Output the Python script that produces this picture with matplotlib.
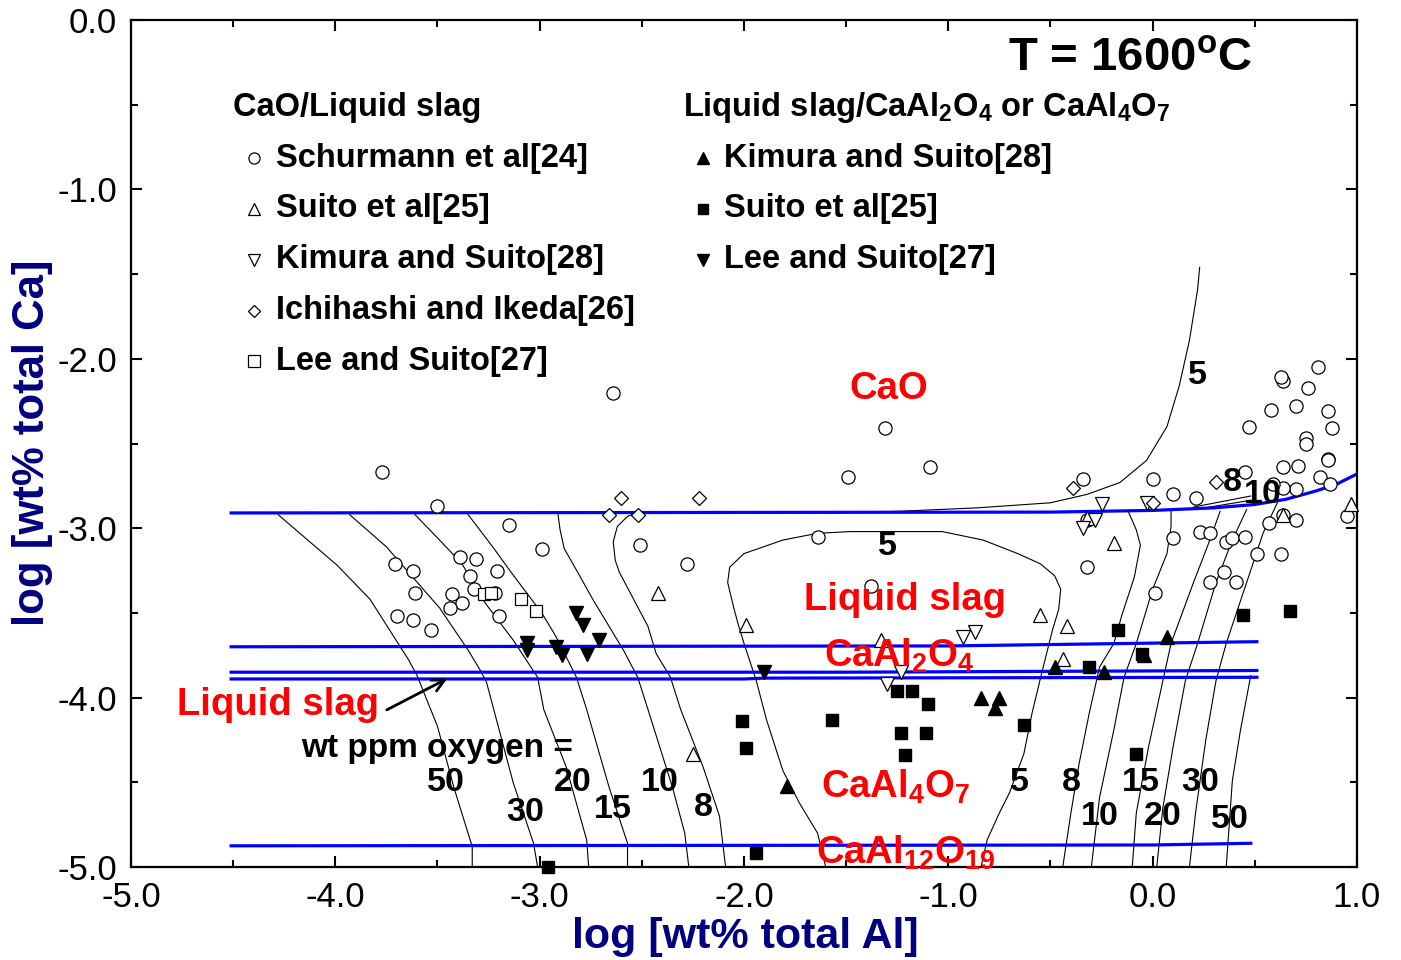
import numpy as np
import matplotlib.pyplot as plt

plt.rcParams['font.family'] = ['Liberation Sans', 'DejaVu Sans']
plt.rcParams['axes.unicode_minus'] = False
plt.rcParams['mathtext.fontset'] = 'custom'
plt.rcParams['mathtext.rm'] = 'Liberation Sans:bold'
plt.rcParams['mathtext.bf'] = 'Liberation Sans:bold'
plt.rcParams['mathtext.default'] = 'bf'

# ---- data points: log wt% Al (x), log wt% Ca (y) ----
# CaO / liquid slag
schurmann_x = [-3.77, -3.50, -3.71, -3.62, -3.61, -3.70, -3.62, -3.53, -3.39, -3.31, -3.21, -3.34, -3.32, -3.22,
               -3.38, -3.43, -3.44, -3.20, -3.15, -2.99, -2.64, -2.51, -2.28, -1.64, -1.38, -1.31, -1.09, -1.49,
               -0.34, 0.00, 0.10, 0.21, 0.45, 0.10, 0.23, 0.28, 0.36, 0.39, 0.45, 0.57, 0.51, 0.63, 0.35, 0.28,
               0.41, 0.01, -0.32, -0.32, 0.64, 0.70, 0.70, 0.64, 0.59, 0.64, 0.71, 0.82, 0.87, 0.95, 0.86, 0.86,
               0.47, 0.58, 0.70, 0.76, 0.81, 0.64, 0.63, 0.86, 0.88, 0.75, 0.75]
schurmann_y = [-2.67, -2.87, -3.21, -3.25, -3.38, -3.52, -3.54, -3.60, -3.17, -3.18, -3.25, -3.28, -3.36, -3.38,
               -3.44, -3.39, -3.47, -3.52, -2.98, -3.12, -2.20, -3.10, -3.21, -3.05, -3.34, -2.41, -2.64, -2.70,
               -2.71, -2.71, -2.80, -2.82, -2.67, -3.06, -3.02, -3.03, -3.08, -3.06, -3.05, -2.97, -3.15, -3.15,
               -3.26, -3.32, -3.32, -3.38, -3.23, -2.95, -2.92, -2.95, -2.77, -2.76, -2.74, -2.64, -2.63, -2.70,
               -2.74, -2.93, -2.59, -2.60, -2.40, -2.30, -2.28, -2.17, -2.05, -2.13, -2.11, -2.31, -2.41, -2.47,
               -2.50]
suito_open_x = [-2.42, -1.99, -2.25, -1.33, -0.55, -0.42, -0.44, -0.19, 0.64, 0.97, -0.32]
suito_open_y = [-3.38, -3.57, -4.33, -3.66, -3.51, -3.58, -3.77, -3.09, -2.92, -2.86, -2.94]
kimura_open_x = [-0.93, -0.87, -1.23, -1.30, -0.25, -0.03, -0.28, -0.34]
kimura_open_y = [-3.64, -3.61, -3.85, -3.92, -2.86, -2.85, -2.95, -3.00]
ichihashi_x = [-2.60, -2.22, -2.66, -2.52, -0.39, 0.31, 0.00]
ichihashi_y = [-2.82, -2.82, -2.92, -2.92, -2.76, -2.73, -2.85]
lee_open_x = [-3.27, -3.24, -3.09, -3.02]
lee_open_y = [-3.39, -3.38, -3.42, -3.49]
# liquid slag / CaAl2O4 or CaAl4O7
kimura_fill_x = [-1.79, -0.84, -0.75, -0.77, -0.48, -0.24, 0.07, -0.04]
kimura_fill_y = [-4.52, -4.00, -4.00, -4.06, -3.82, -3.85, -3.64, -3.75]
suito_fill_x = [-1.25, -1.18, -1.10, -1.57, -2.01, -1.99, -1.23, -1.11, -1.21, -0.63, -1.94, -2.96,
                -0.17, -0.31, -0.05, 0.44, 0.67, -0.08]
suito_fill_y = [-3.96, -3.96, -4.04, -4.13, -4.14, -4.30, -4.21, -4.21, -4.34, -4.16, -4.92, -5.00,
                -3.60, -3.82, -3.74, -3.51, -3.49, -4.33]
lee_fill_x = [-2.82, -2.79, -2.71, -3.06, -3.06, -2.92, -2.89, -2.77, -1.90]
lee_fill_y = [-3.50, -3.57, -3.66, -3.68, -3.72, -3.70, -3.75, -3.74, -3.85]

# ---- phase boundaries (blue) ----
b1_x = [-4.51, -0.5, 0.0, 0.3, 0.5, 0.65, 0.8, 0.9, 1.0]
b1_y = [-2.91, -2.905, -2.895, -2.88, -2.86, -2.83, -2.78, -2.74, -2.68]
b2_x = [-4.51, -1.0, 0.51]
b2_y = [-3.70, -3.695, -3.67]
b3_x = [-4.51, -1.5, 0.51]
b3_y = [-3.85, -3.85, -3.84]
b4_x = [-4.51, -2.0, -1.9, 0.51]
b4_y = [-3.89, -3.89, -3.885, -3.88]
b5_x = [-4.51, 0.0, 0.48]
b5_y = [-4.875, -4.87, -4.86]

# ---- iso-oxygen lines (wt ppm) ----
o50_x = [-4.28, -3.99, -3.83, -3.64, -3.60, -3.50, -3.42, -3.33, -3.33]
o50_y = [-2.92, -3.22, -3.42, -3.78, -3.87, -4.17, -4.53, -4.88, -5.00]
o30_x = [-3.93, -3.75, -3.57, -3.49, -3.35, -3.29, -3.26, -3.13, -3.03, -3.01]
o30_y = [-2.92, -3.11, -3.36, -3.47, -3.72, -3.84, -3.91, -4.50, -4.86, -5.00]
o20_x = [-3.61, -3.49, -3.38, -3.28, -3.13, -3.01, -2.98, -2.87, -2.77, -2.76]
o20_y = [-2.92, -3.07, -3.21, -3.42, -3.66, -3.88, -4.07, -4.41, -4.84, -5.00]
o15_x = [-3.35, -3.23, -3.14, -2.99, -2.92, -2.82, -2.77, -2.66, -2.57, -2.57]
o15_y = [-2.92, -3.11, -3.26, -3.50, -3.64, -3.88, -4.07, -4.53, -4.86, -5.00]
o10_x = [-2.91, -2.90, -2.88, -2.80, -2.74, -2.66, -2.59, -2.52, -2.47, -2.35, -2.29, -2.27]
o10_y = [-2.92, -3.01, -3.12, -3.29, -3.42, -3.58, -3.72, -3.88, -4.07, -4.53, -4.80, -5.00]
o8_x = [-2.51, -2.57, -2.62, -2.64, -2.63, -2.61, -2.54, -2.47, -2.43, -2.36, -2.31, -2.20, -2.12, -2.09]
o8_y = [-2.90, -2.93, -2.99, -3.08, -3.19, -3.26, -3.42, -3.58, -3.74, -3.88, -4.07, -4.41, -4.70, -5.00]
pocket_x = [-1.60, -1.64, -1.73, -1.81, -1.89, -1.94, -2.00, -2.03, -2.05, -2.08, -2.07, -2.00, -1.81, -1.64,
            -1.48, -1.03, -0.83, -0.66, -0.55, -0.48, -0.45, -0.46, -0.49, -0.54, -0.59, -0.63, -0.70, -0.75,
            -0.81, -0.84]
pocket_y = [-5.00, -4.80, -4.62, -4.43, -4.13, -3.90, -3.68, -3.56, -3.47, -3.32, -3.23, -3.15, -3.07, -3.03,
            -3.02, -3.02, -3.07, -3.15, -3.21, -3.28, -3.36, -3.48, -3.60, -3.84, -4.09, -4.33, -4.56, -4.68,
            -4.84, -5.00]
cao5_x = [-1.58, -1.24, -0.86, -0.50, -0.32, -0.16, -0.03, 0.07, 0.13, 0.18, 0.22, 0.23]
cao5_y = [-2.91, -2.90, -2.88, -2.85, -2.80, -2.73, -2.60, -2.40, -2.16, -1.89, -1.59, -1.46]
r8_x = [-0.12, -0.08, -0.06, -0.09, -0.15, -0.19, -0.26, -0.31, -0.36, -0.40, -0.44]
r8_y = [-2.90, -3.01, -3.10, -3.29, -3.51, -3.68, -3.82, -4.09, -4.39, -4.68, -5.00]
r10_x = [0.09, 0.09, 0.07, 0.00, -0.08, -0.14, -0.19, -0.26, -0.30]
r10_y = [-2.90, -2.99, -3.15, -3.36, -3.68, -3.88, -4.19, -4.59, -5.00]
r15_x = [0.33, 0.28, 0.20, 0.09, 0.05, -0.02, -0.08, -0.10]
r15_y = [-2.90, -3.07, -3.32, -3.68, -3.90, -4.29, -4.68, -5.00]
r20_x = [0.46, 0.39, 0.31, 0.22, 0.16, 0.10, 0.05, 0.02]
r20_y = [-2.89, -3.07, -3.32, -3.68, -3.90, -4.29, -4.65, -5.00]
r30_x = [0.62, 0.61, 0.54, 0.46, 0.36, 0.31, 0.26, 0.21, 0.18]
r30_y = [-2.73, -2.85, -3.03, -3.32, -3.68, -3.90, -4.25, -4.68, -5.00]
r50_x = [0.48, 0.43, 0.39, 0.36]
r50_y = [-3.87, -4.19, -4.49, -5.00]
w8_x = [0.20, 0.48]
w8_y = [-2.875, -2.81]
w10_x = [0.23, 0.48]
w10_y = [-2.885, -2.835]

iso_labels = ['50', '30', '20', '15', '10', '8', '5', '8', '10', '15', '20', '30', '50', '5', '5', '8', '10']
iso_label_x = [-3.46, -3.07, -2.84, -2.64, -2.41, -2.20, -0.65, -0.40, -0.26, -0.06, 0.05, 0.23, 0.38,
               -1.30, 0.22, 0.39, 0.54]
iso_label_y = [-4.50, -4.68, -4.50, -4.66, -4.50, -4.65, -4.50, -4.50, -4.70, -4.50, -4.70, -4.50, -4.72,
               -3.11, -2.10, -2.73, -2.80]

fig = plt.figure(figsize=(14.01, 9.6), dpi=100)
ax = fig.add_axes([131 / 1401, 93 / 960, 1226 / 1401, 847 / 960])

for xs, ys in [(b1_x, b1_y), (b2_x, b2_y), (b3_x, b3_y), (b4_x, b4_y), (b5_x, b5_y)]:
    ax.plot(xs, ys, color='#0000ff', lw=2.3, zorder=2)

for xs, ys in [(o50_x, o50_y), (o30_x, o30_y), (o20_x, o20_y), (o15_x, o15_y), (o10_x, o10_y),
               (o8_x, o8_y), (pocket_x, pocket_y), (cao5_x, cao5_y), (r8_x, r8_y), (r10_x, r10_y),
               (r15_x, r15_y), (r20_x, r20_y), (r30_x, r30_y), (r50_x, r50_y), (w8_x, w8_y), (w10_x, w10_y)]:
    ax.plot(xs, ys, color='black', lw=0.8, zorder=1)

open_kw = dict(ls='none', mfc='white', mec='black', mew=0.9, clip_on=False, zorder=3)
fill_kw = dict(ls='none', color='black', clip_on=False, zorder=3)
ax.plot(schurmann_x, schurmann_y, 'o', ms=9.5, **open_kw)
ax.plot(suito_open_x, suito_open_y, '^', ms=10.5, **open_kw)
ax.plot(kimura_open_x, kimura_open_y, 'v', ms=10.5, **open_kw)
ax.plot(ichihashi_x, ichihashi_y, 'D', ms=7, **open_kw)
ax.plot(lee_open_x, lee_open_y, 's', ms=8.5, **open_kw)
ax.plot(kimura_fill_x, kimura_fill_y, '^', ms=10.5, **fill_kw)
ax.plot(suito_fill_x, suito_fill_y, 's', ms=8.5, **fill_kw)
ax.plot(lee_fill_x, lee_fill_y, 'v', ms=10.5, **fill_kw)

for t, x, y in zip(iso_labels, iso_label_x, iso_label_y):
    ax.text(x, y, t, fontsize=24.5, fontweight='bold', ha='center', va='center', zorder=4)

# region labels
red_kw = dict(color='#ff0000', fontsize=27.5, fontweight='bold', ha='center', va='baseline', zorder=5)
ax.text(-1.29, -2.24, 'CaO', **red_kw)
ax.text(-1.21, -3.48, 'Liquid slag', **red_kw)
ax.text(-1.24, -3.82, 'CaAl$_2$O$_4$', **red_kw)
ax.text(-1.26, -4.59, 'CaAl$_4$O$_7$', **red_kw)
ax.text(-1.21, -4.98, 'CaAl$_{12}$O$_{19}$', **red_kw)
ax.text(-4.28, -4.10, 'Liquid slag', **red_kw)
ax.annotate('', xy=(-3.44, -3.88), xytext=(-3.76, -4.08),
            arrowprops=dict(arrowstyle='->', color='black', lw=2, mutation_scale=22))
ax.text(-3.50, -4.35, 'wt ppm oxygen =', fontsize=24, fontweight='bold', ha='center', va='baseline')
ax.text(-0.11, -0.225, 'T = 1600$^{\\mathregular{o}}$C', fontsize=34, fontweight='bold', ha='center', va='center')

# legend built by hand
leg_kw = dict(fontsize=23.5, fontweight='bold', va='center')
ax.text(-4.50, -0.515, 'CaO/Liquid slag', **leg_kw)
left_entries = [('o', 'Schurmann et al[24]'), ('^', 'Suito et al[25]'), ('v', 'Kimura and Suito[28]'),
                ('D', 'Ichihashi and Ikeda[26]'), ('s', 'Lee and Suito[27]')]
for i, (m, lab) in enumerate(left_entries):
    yy = -0.815 - 0.30 * i
    ax.plot([-4.40], [yy], m, ms=8 if m != 'D' else 6, mfc='white', mec='black', mew=0.9)
    ax.text(-4.29, yy, lab, **leg_kw)
ax.text(-2.30, -0.515, 'Liquid slag/CaAl$_2$O$_4$ or CaAl$_4$O$_7$', **leg_kw)
right_entries = [('^', 'Kimura and Suito[28]'), ('s', 'Suito et al[25]'), ('v', 'Lee and Suito[27]')]
for i, (m, lab) in enumerate(right_entries):
    yy = -0.815 - 0.30 * i
    ax.plot([-2.20], [yy], m, ms=8 if m != 's' else 7, color='black')
    ax.text(-2.10, yy, lab, **leg_kw)

ax.set_xlim(-5, 1)
ax.set_ylim(-5, 0)
ax.set_xticks(np.arange(-5, 1.01, 1.0))
ax.set_yticks(np.arange(-5, 0.01, 1.0))
ax.set_xticks(np.arange(-4.5, 1.0, 1.0), minor=True)
ax.set_yticks(np.arange(-4.5, 0.0, 1.0), minor=True)
ax.xaxis.set_major_formatter(plt.FormatStrFormatter('%.1f'))
ax.yaxis.set_major_formatter(plt.FormatStrFormatter('%.1f'))
ax.tick_params(which='both', direction='in', top=True, right=True, width=1.5, labelsize=25)
ax.tick_params(axis='x', pad=10)
ax.tick_params(axis='y', pad=10)
ax.tick_params(which='major', length=8)
ax.tick_params(which='minor', length=5)
for s in ax.spines.values():
    s.set_linewidth(1.6)

fig.text(745 / 1401, 1 - 937 / 960, 'log [wt% total Al]', color='#000080', fontsize=31,
         fontweight='bold', ha='center', va='center')
fig.text(33 / 1401, 1 - 443 / 960, 'log [wt% total Ca]', color='#000080', fontsize=31.5,
         fontweight='bold', ha='center', va='center', rotation=90)

plt.savefig('out.png', dpi=100)
plt.close()
